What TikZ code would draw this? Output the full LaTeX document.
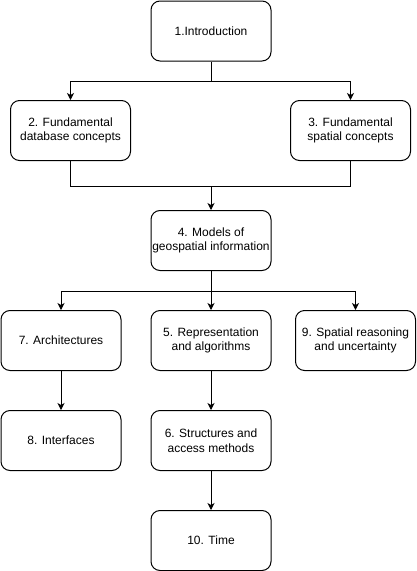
\documentclass[tikz,border=0pt]{standalone}
\usepackage{fontspec}
\setmainfont{Liberation Sans}
\usetikzlibrary{arrows.meta}
\begin{document}
\begin{tikzpicture}[x=1pt,y=-1pt,
  box/.style={draw=black,line width=1pt,rounded corners=9pt,minimum width=120pt,minimum height=60pt,
    align=center,font=\fontsize{12pt}{14.5pt}\selectfont,inner sep=0pt,anchor=north west},
  line/.style={line width=1pt,draw=black},
  arr/.style={line,-{Stealth[length=7pt,width=7pt,inset=2pt]}}]
\useasboundingbox (0,0) rectangle (416,571);
\node[box] (n1) at (150.5,0.5) {1.Introduction};
\node[box] (n2) at (10,100) {2. Fundamental\\database concepts};
\node[box] (n3) at (290,100) {3. Fundamental\\spatial concepts};
\node[box] (n4) at (150.5,210) {4. Models of\\geospatial information};
\node[box] (n7) at (0.5,310) {7. Architectures};
\node[box] (n5) at (150.5,310) {5. Representation\\and algorithms};
\node[box] (n9) at (295,310) {9. Spatial reasoning\\and uncertainty};
\node[box] (n8) at (0.5,410) {8. Interfaces};
\node[box] (n6) at (150.5,410) {6. Structures and\\access methods};
\node[box] (n10) at (150.5,510) {10. Time};
\coordinate (j1) at ([yshift=-20pt]n1.south);
\coordinate (j2) at ([yshift=-25pt]n2.south);
\coordinate (j4) at ([yshift=-20pt]n4.south);
\draw[arr] (n1.south) -- (j1) -| (n2.north);
\draw[arr] (j1) -| (n3.north);
\draw[line] (n2.south) -- (j2) -| (n3.south);
\draw[arr] (j2 -| n4.north) -- (n4.north);
\draw[arr] (n4.south) -- (n5.north);
\draw[arr] (j4) -| (n7.north);
\draw[arr] (j4) -| (n9.north);
\draw[arr] (n7) -- (n8);
\draw[arr] (n5) -- (n6);
\draw[arr] (n6) -- (n10);
\end{tikzpicture}
\end{document}
